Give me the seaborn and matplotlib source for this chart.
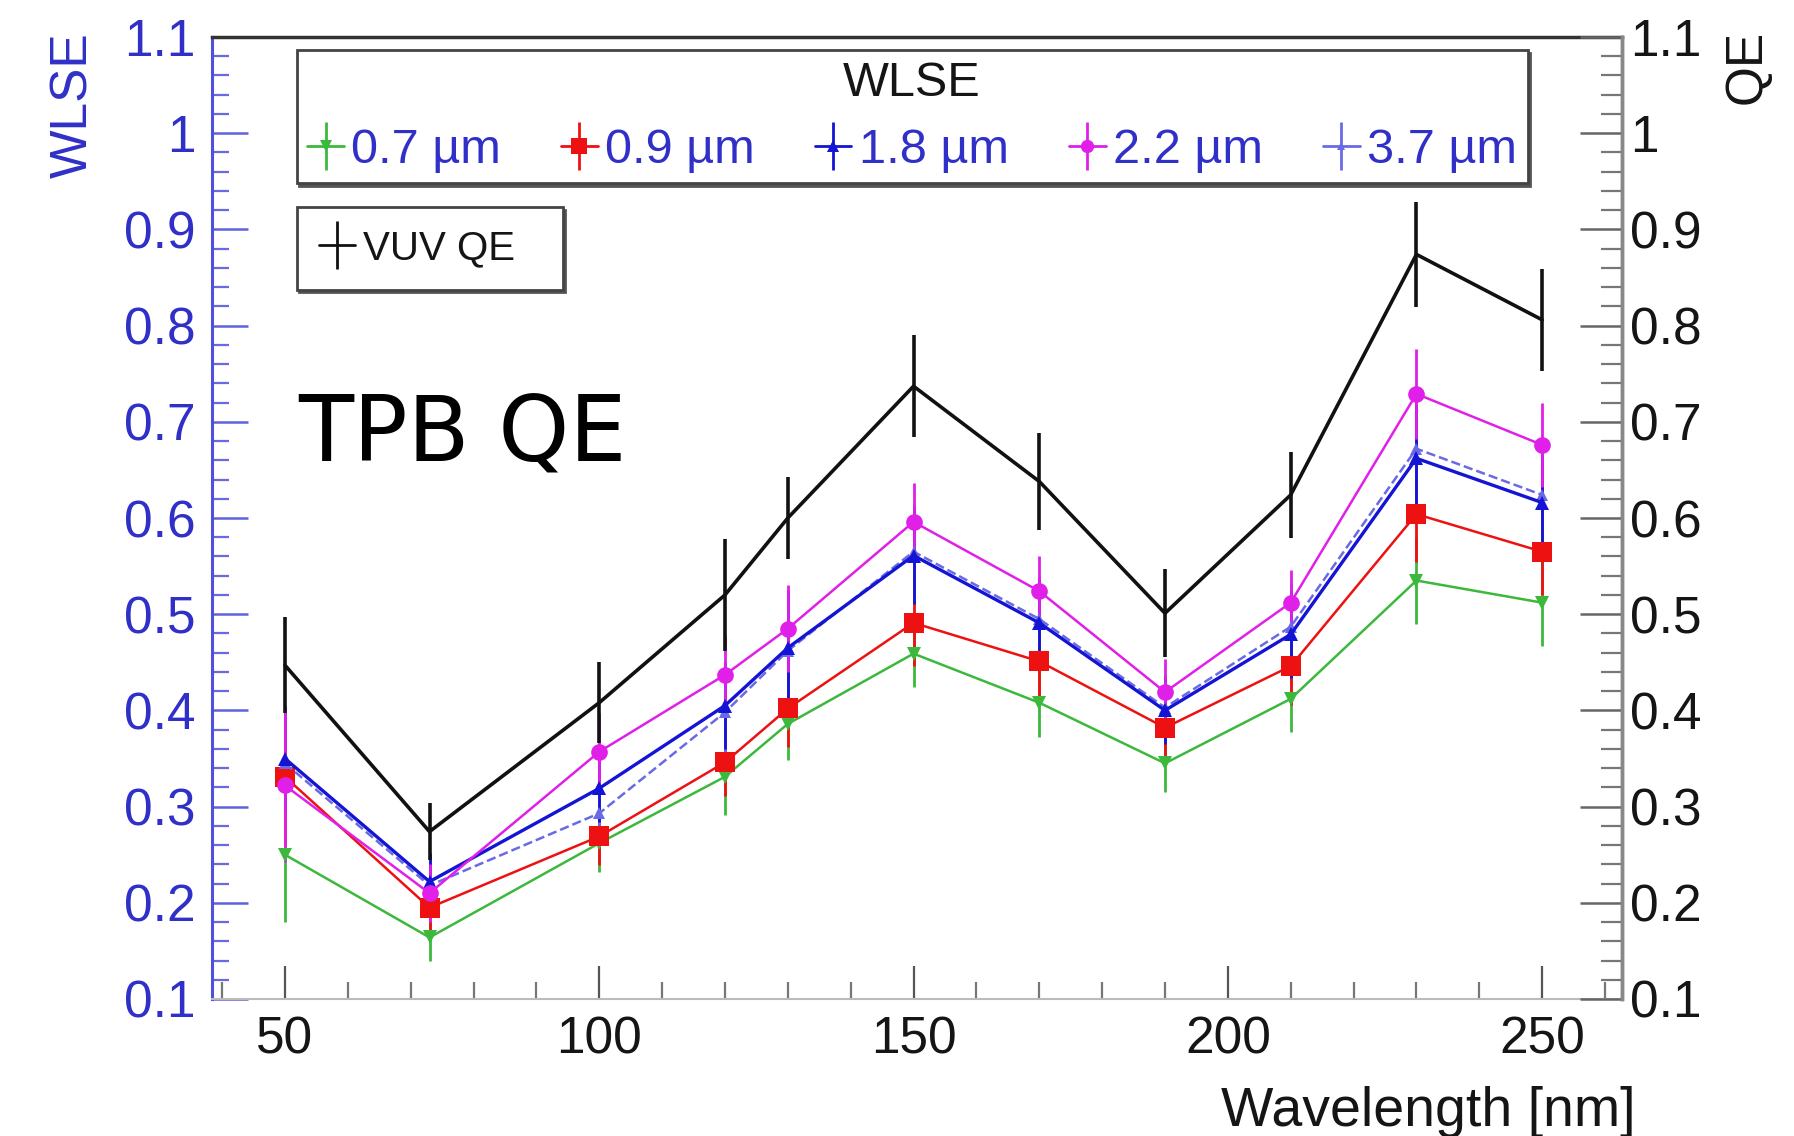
import numpy as np
import pandas as pd
import matplotlib
matplotlib.use("Agg")
import matplotlib.pyplot as plt
import seaborn as sns
from matplotlib.lines import Line2D
from matplotlib.legend_handler import HandlerTuple
from matplotlib.ticker import MultipleLocator, FuncFormatter, FixedLocator

# ---------------- data ----------------
wavelength = [50, 73, 100, 120, 130, 150, 170, 190, 210, 230, 250]

vuv_qe     = [0.447, 0.274, 0.408, 0.520, 0.600, 0.737, 0.638, 0.501, 0.624, 0.874, 0.806]
vuv_qe_err = [0.050, 0.030, 0.042, 0.058, 0.043, 0.053, 0.050, 0.046, 0.045, 0.055, 0.053]

wlse_07     = [0.250, 0.164, 0.262, 0.331, 0.386, 0.459, 0.408, 0.345, 0.412, 0.535, 0.512]
wlse_07_err = [0.070, 0.025, 0.030, 0.040, 0.038, 0.035, 0.036, 0.030, 0.034, 0.045, 0.045]

wlse_09     = [0.331, 0.195, 0.269, 0.346, 0.402, 0.491, 0.451, 0.382, 0.446, 0.604, 0.565]
wlse_09_err = [0.070, 0.030, 0.030, 0.035, 0.040, 0.045, 0.040, 0.035, 0.040, 0.050, 0.045]

wlse_18     = [0.350, 0.222, 0.319, 0.405, 0.465, 0.561, 0.491, 0.400, 0.479, 0.662, 0.616]
wlse_18_err = [0.055, 0.030, 0.035, 0.045, 0.060, 0.050, 0.045, 0.035, 0.045, 0.055, 0.050]

wlse_22     = [0.322, 0.210, 0.357, 0.437, 0.485, 0.596, 0.524, 0.419, 0.512, 0.729, 0.676]
wlse_22_err = [0.080, 0.030, 0.040, 0.040, 0.045, 0.040, 0.036, 0.034, 0.034, 0.047, 0.044]

wlse_37     = [0.345, 0.218, 0.293, 0.398, 0.462, 0.565, 0.495, 0.403, 0.487, 0.672, 0.624]
wlse_37_err = [0.050, 0.030, 0.035, 0.045, 0.055, 0.050, 0.045, 0.035, 0.045, 0.055, 0.050]

series_labels = ["0.7 µm", "0.9 µm", "1.8 µm", "2.2 µm", "3.7 µm"]
x_ticks = [50, 100, 150, 200, 250]
y_ticks = [0.1, 0.2, 0.3, 0.4, 0.5, 0.6, 0.7, 0.8, 0.9, 1.0, 1.1]

# ---------------- style ----------------
sns.set_style("white")
plt.rcParams["font.family"] = ["Liberation Sans", "DejaVu Sans"]

BLUE_TXT = "#3030c8"
styles = {
    "0.7 µm": dict(color="#3cb83c", marker="v", ms=10, ls="-", lw=1.8),
    "0.9 µm": dict(color="#ee1111", marker="s", ms=14, ls="-", lw=1.8),
    "1.8 µm": dict(color="#1414d4", marker="^", ms=10, ls="-", lw=2.4),
    "2.2 µm": dict(color="#e020e8", marker="o", ms=12, ls="-", lw=1.8),
    "3.7 µm": dict(color="#6a6ae6", marker="^", ms=8, ls="--", lw=1.8),
}
series_vals = {
    "0.7 µm": (wlse_07, wlse_07_err),
    "0.9 µm": (wlse_09, wlse_09_err),
    "1.8 µm": (wlse_18, wlse_18_err),
    "2.2 µm": (wlse_22, wlse_22_err),
    "3.7 µm": (wlse_37, wlse_37_err),
}

fig = plt.figure(figsize=(17.94, 11.36), dpi=100)
fig.patch.set_facecolor("white")
ax = fig.add_axes([212/1794, 1-999/1136, 1410/1794, 962/1136])

# colored WLSE series
draw_order = ["0.7 µm", "0.9 µm", "3.7 µm", "1.8 µm", "2.2 µm"]
for name in draw_order:
    vals, errs = series_vals[name]
    st = styles[name]
    df = pd.DataFrame({"wavelength": wavelength, "value": vals})
    ax.errorbar(wavelength, vals, yerr=errs, fmt="none", ecolor=st["color"],
                elinewidth=2.0, capsize=0, zorder=2)
    sns.lineplot(data=df, x="wavelength", y="value", ax=ax, color=st["color"],
                 linewidth=st["lw"], linestyle=st["ls"], marker=st["marker"],
                 markersize=st["ms"], markeredgewidth=0, zorder=3, legend=False)

# black VUV QE
df_qe = pd.DataFrame({"wavelength": wavelength, "value": vuv_qe})
ax.errorbar(wavelength, vuv_qe, yerr=vuv_qe_err, fmt="none", ecolor="#111111",
            elinewidth=2.6, capsize=0, zorder=4)
sns.lineplot(data=df_qe, x="wavelength", y="value", ax=ax, color="#111111",
             linewidth=2.6, zorder=4, legend=False)

# axes ranges / ticks
ax.set_xlim(38.4, 262.7)
ax.set_ylim(0.1, 1.1)
ax.set_xlabel("")
ax.set_ylabel("")
ax.xaxis.set_major_locator(FixedLocator(x_ticks))
ax.xaxis.set_minor_locator(MultipleLocator(10))
ax.yaxis.set_major_locator(FixedLocator(y_ticks))
ax.yaxis.set_minor_locator(MultipleLocator(0.02))
fmt = FuncFormatter(lambda v, p: f"{v:g}")
ax.yaxis.set_major_formatter(fmt)

ax.tick_params(axis="x", which="major", direction="in", length=24, width=1.6,
               color="#555555", labelsize=37, pad=12, labelcolor="#151515",
               top=False, bottom=True)
ax.tick_params(axis="x", which="minor", direction="in", length=12, width=1.6,
               color="#777777", top=False, bottom=True)
ax.tick_params(axis="y", which="major", direction="in", length=26, width=1.8,
               color="#6060dd", labelsize=37, pad=12, labelcolor=BLUE_TXT,
               left=True, right=False)
ax.tick_params(axis="y", which="minor", direction="in", length=12, width=1.6,
               color="#6a6ae0", left=True, right=False)

for s, col, lw in [("left", "#5050dd", 2.2), ("top", "#333333", 2.5),
                   ("bottom", "#bbbbbb", 1.5), ("right", "#888888", 2.5)]:
    ax.spines[s].set_color(col)
    ax.spines[s].set_linewidth(lw)
    ax.spines[s].set_visible(True)

# right axis (QE)
ax2 = ax.twinx()
ax2.set_ylim(0.1, 1.1)
ax2.yaxis.set_major_locator(FixedLocator(y_ticks))
ax2.yaxis.set_minor_locator(MultipleLocator(0.02))
ax2.yaxis.set_major_formatter(fmt)
ax2.tick_params(axis="y", which="major", direction="in", length=30, width=1.8,
                color="#666666", labelsize=37, pad=6, labelcolor="#151515")
ax2.tick_params(axis="y", which="minor", direction="in", length=15, width=1.6,
                color="#777777")
ax2.spines["left"].set_visible(False)
ax2.spines["top"].set_visible(False)
ax2.spines["bottom"].set_visible(False)
ax2.spines["right"].set_color("#888888")
ax2.spines["right"].set_linewidth(2.5)
ax2.grid(False)
ax.grid(False)

# axis titles
fig.text(74/1794, 1-32/1136, "WLSE", rotation=90, ha="center", va="top",
         color=BLUE_TXT, fontsize=37)
fig.text(1747/1794, 1-30/1136, "QE", rotation=90, ha="center", va="top",
         color="#151515", fontsize=37)
fig.text(1636/1794, 0.009, "Wavelength [nm]", ha="right", va="baseline",
         color="#151515", fontsize=40)

# TPB QE annotation
ax.text(0.061, 0.559, "TPB QE", transform=ax.transAxes, ha="left",
        va="baseline", fontsize=65, family="DejaVu Sans", color="black")

# legends
def plus_handle(color, marker=None, ms=0):
    h1 = Line2D([], [], color=color, lw=2.0, ls="-", marker=marker or "None",
                ms=ms, mew=0)
    h2 = Line2D([], [], color=color, marker="|", ms=34, mew=2.0, ls="None")
    return (h1, h2)

shadow_kw = {"ox": 2, "oy": -2, "facecolor": "#555555",
             "edgecolor": "#555555", "alpha": 1.0}
handles = [plus_handle(styles[n]["color"], styles[n]["marker"], styles[n]["ms"] * 0.8)
           for n in series_labels]
leg1 = ax.legend(handles, series_labels, title="WLSE", ncol=5, mode="expand",
                 loc="upper left", bbox_to_anchor=(0.060, 0.80, 0.873, 0.1865),
                 borderaxespad=0, fontsize=35, title_fontsize=35,
                 handlelength=0.75, handletextpad=0.15, columnspacing=0.5,
                 borderpad=0.22, labelspacing=0.45, frameon=True, fancybox=False,
                 handler_map={tuple: HandlerTuple(ndivide=1, pad=0)},
                 shadow=shadow_kw)
for t in leg1.get_texts():
    t.set_color(BLUE_TXT)
leg1.get_title().set_color("#151515")
fr = leg1.get_frame()
fr.set_edgecolor("#444444")
fr.set_linewidth(2)
fr.set_facecolor("white")
fr.set_alpha(1)
ax.add_artist(leg1)

leg2 = ax.legend([plus_handle("#111111")], ["VUV QE"], loc="upper left",
                 mode="expand", bbox_to_anchor=(0.060, 0.70, 0.1887, 0.123),
                 borderaxespad=0, fontsize=29, handlelength=0.9,
                 handletextpad=0.2, borderpad=0.55, frameon=True,
                 fancybox=False,
                 handler_map={tuple: HandlerTuple(ndivide=1, pad=0)},
                 shadow=shadow_kw)
leg2.get_texts()[0].set_color("#151515")
fr2 = leg2.get_frame()
fr2.set_edgecolor("#444444")
fr2.set_linewidth(2)
fr2.set_facecolor("white")

fig.savefig("out.png", dpi=100, facecolor="white")
